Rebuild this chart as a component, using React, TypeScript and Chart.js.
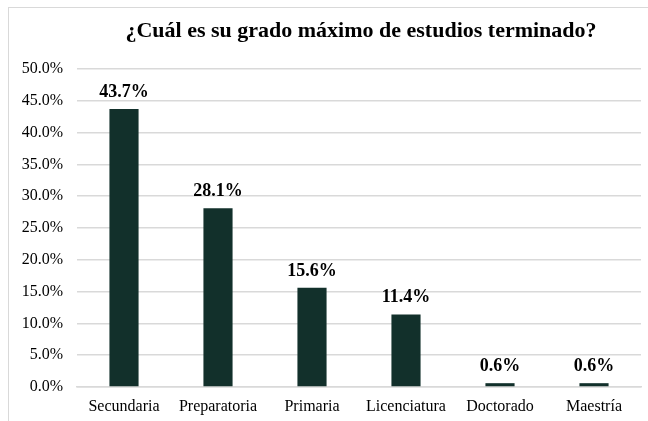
import React, { useEffect, useRef } from "react";
import { Chart, registerables } from "chart.js";

Chart.register(...registerables);

const categories = ["Secundaria", "Preparatoria", "Primaria", "Licenciatura", "Doctorado", "Maestría"];
const values = [43.7, 28.1, 15.6, 11.4, 0.6, 0.6];
const titleText = "¿Cuál es su grado máximo de estudios terminado?";

const SERIF = "'Liberation Serif', 'Times New Roman', serif";

const titlePlugin = {
  id: "customTitle",
  afterDraw(chart: any) {
    const { ctx, chartArea } = chart;
    ctx.save();
    ctx.font = `bold 22px ${SERIF}`;
    ctx.fillStyle = "#000000";
    ctx.textAlign = "center";
    ctx.textBaseline = "alphabetic";
    ctx.fillText(titleText, (chartArea.left + chartArea.right) / 2 + 2, 37);
    ctx.restore();
  },
};

const labelPlugin = {
  id: "dataLabels",
  afterDatasetsDraw(chart: any) {
    const { ctx } = chart;
    const meta = chart.getDatasetMeta(0);
    ctx.save();
    ctx.font = `bold 18px ${SERIF}`;
    ctx.fillStyle = "#000000";
    ctx.textAlign = "center";
    ctx.textBaseline = "alphabetic";
    meta.data.forEach((bar: any, i: number) => {
      ctx.fillText(values[i].toFixed(1) + "%", bar.x, bar.y - 12);
    });
    ctx.restore();
  },
};

export default function App() {
  const ref = useRef<HTMLCanvasElement>(null);
  useEffect(() => {
    document.body.style.margin = "0";
    const chart = new Chart(ref.current!, {
      type: "bar",
      data: {
        labels: categories,
        datasets: [
          {
            data: values,
            backgroundColor: "#12302b",
            categoryPercentage: 1,
            barPercentage: 0.31,
          },
        ],
      },
      options: {
        animation: false,
        responsive: false,
        devicePixelRatio: 1,
        layout: { padding: { top: 69, right: 7, bottom: 0, left: 0 } },
        plugins: { legend: { display: false }, title: { display: false }, tooltip: { enabled: false } },
        scales: {
          x: {
            grid: { display: false, drawTicks: false },
            border: { display: true, color: "#d9d9d9", width: 1.5 },
            ticks: { font: { family: SERIF, size: 16 }, color: "#000000", padding: 10 },
            afterFit: (s: any) => {
              s.height = 34;
            },
          },
          y: {
            min: 0,
            max: 50,
            grid: { color: "#d9d9d9", lineWidth: 1.5, drawTicks: false },
            border: { display: false },
            ticks: {
              stepSize: 5,
              font: { family: SERIF, size: 16 },
              color: "#000000",
              padding: 14,
              callback: (v: any) => Number(v).toFixed(1) + "%",
            },
            afterFit: (s: any) => {
              s.width = 77;
            },
          },
        },
      },
      plugins: [titlePlugin, labelPlugin],
    });
    return () => chart.destroy();
  }, []);
  return (
    <div style={{ position: "fixed", left: 0, top: 0, width: 648, height: 421, overflow: "hidden", background: "#ffffff" }}>
      <div
        style={{
          position: "absolute",
          left: 8,
          top: 7,
          width: 700,
          height: 500,
          border: "1.5px solid #d9d9d9",
        }}
      />
      <canvas ref={ref} width={648} height={421} style={{ position: "absolute", left: 0, top: 0 }} />
    </div>
  );
}
